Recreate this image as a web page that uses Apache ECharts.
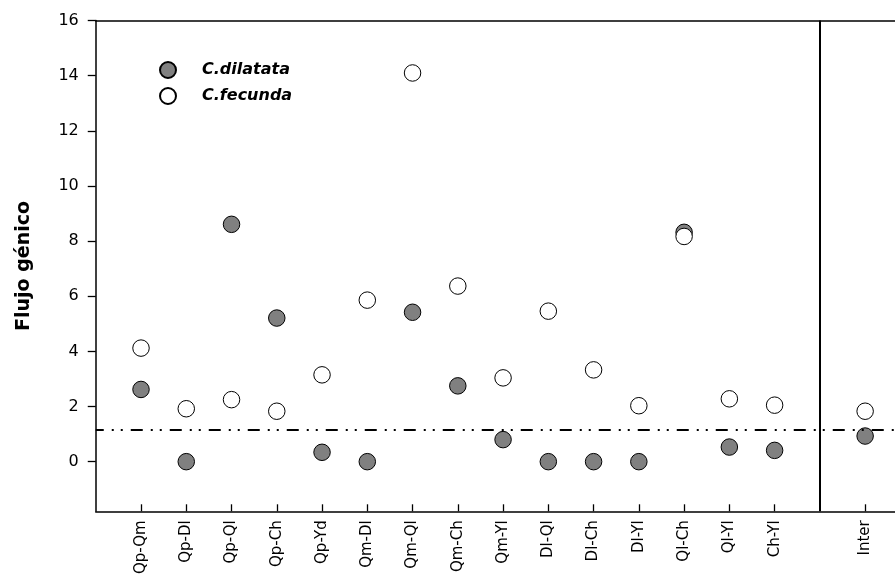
<!DOCTYPE html>
<html>
<head>
<meta charset="utf-8">
<script src="https://cdn.jsdelivr.net/npm/echarts@6/dist/echarts.min.js"></script>
<style>
  html, body { margin: 0; padding: 0; background: #fff; }
  #main { width: 895px; height: 577px; }
</style>
</head>
<body>
<div id="main"></div>
<script>
// pares de poblaciones (el hueco vacio separa "Inter")
var categories = ['Qp-Qm', 'Qp-Dl', 'Qp-Ql', 'Qp-Ch', 'Qp-Yd', 'Qm-Dl', 'Qm-Ql', 'Qm-Ch',
                  'Qm-Yl', 'Dl-Ql', 'Dl-Ch', 'Dl-Yl', 'Ql-Ch', 'Ql-Yl', 'Ch-Yl', '', 'Inter'];
var dilatata = [2.62, 0, 8.61, 5.21, 0.34, 0, 5.42, 2.75, 0.8, 0, 0, 0, 8.32, 0.53, 0.41, null, 0.93];
var fecunda  = [4.12, 1.92, 2.25, 1.83, 3.15, 5.86, 14.1, 6.37, 3.04, 5.46, 3.33, 2.03, 8.17, 2.28, 2.05, null, 1.83];
var yTicks = [0, 2, 4, 6, 8, 10, 12, 14, 16];
var umbral = 1.15;

var FONT = 'DejaVu Sans';

function toPoints(vals) {
    var out = [];
    vals.forEach(function (v, i) {
        if (v !== null) out.push([i + 1, v]);
    });
    return out;
}
var xTicks = [];
var divider = null;
categories.forEach(function (c, i) {
    if (c === '') divider = i + 1; else xTicks.push(i + 1);
});

var chart = echarts.init(document.getElementById('main'));
chart.setOption({
    animation: false,
    backgroundColor: '#fff',
    grid: { left: 95.75, right: 0, top: 20.6, bottom: 64.3 },
    legend: {
        orient: 'vertical',
        left: 159, top: 61,
        padding: 0,
        itemWidth: 16, itemHeight: 16, itemGap: 8,
        icon: 'circle',
        data: ['C.dilatata', 'C.fecunda'],
        textStyle: { fontFamily: FONT, fontSize: 16, fontWeight: 'bold', fontStyle: 'italic', color: '#000', padding: [0, 0, 0, 21] }
    },
    xAxis: [{
        type: 'value', min: 0, max: 17.66,
        axisLine: { onZero: false, lineStyle: { color: '#000', width: 1.5 } },
        axisTick: { inside: true, length: 7, customValues: xTicks, lineStyle: { color: '#000', width: 1.3 } },
        axisLabel: {
            customValues: xTicks, rotate: 90, margin: 9,
            fontFamily: FONT, fontSize: 15, color: '#000',
            formatter: function (v) { return categories[Math.round(v) - 1]; }
        },
        splitLine: { show: false }
    }, {
        type: 'value', min: 0, max: 17.66, position: 'top',
        axisLine: { show: true, onZero: false, lineStyle: { color: '#000', width: 1.5 } },
        axisTick: { show: false }, axisLabel: { show: false }, splitLine: { show: false }
    }],
    yAxis: {
        type: 'value', min: -1.8, max: 16,
        name: 'Flujo génico', nameLocation: 'middle', nameGap: 62, nameRotate: 90,
        nameTextStyle: { fontFamily: FONT, fontSize: 19, fontWeight: 'bold', color: '#000' },
        axisLine: { show: true, onZero: false, lineStyle: { color: '#000', width: 1.5 } },
        axisTick: { length: 8, customValues: yTicks, lineStyle: { color: '#000', width: 1.3 } },
        axisLabel: { customValues: yTicks, margin: 17, fontFamily: FONT, fontSize: 16, color: '#000' },
        splitLine: { show: false }
    },
    series: [{
        type: 'line', data: [], z: 1, silent: true,
        markLine: {
            silent: true, symbol: ['none', 'none'], label: { show: false },
            animation: false,
            data: [
                { yAxis: umbral, lineStyle: { color: '#000', width: 2, type: [12, 8, 2, 7, 2, 8], dashOffset: 4 } },
                { xAxis: divider, lineStyle: { color: '#000', width: 2, type: 'solid' } }
            ]
        }
    }, {
        name: 'C.dilatata', type: 'scatter', z: 3,
        symbol: 'circle', symbolSize: 16.5,
        itemStyle: { color: '#808080', borderColor: '#000', borderWidth: 1, opacity: 1 },
        data: toPoints(dilatata)
    }, {
        name: 'C.fecunda', type: 'scatter', z: 4,
        symbol: 'circle', symbolSize: 16.5,
        itemStyle: { color: '#fff', borderColor: '#000', borderWidth: 1, opacity: 1 },
        data: toPoints(fecunda)
    }]
});
</script>
</body>
</html>
